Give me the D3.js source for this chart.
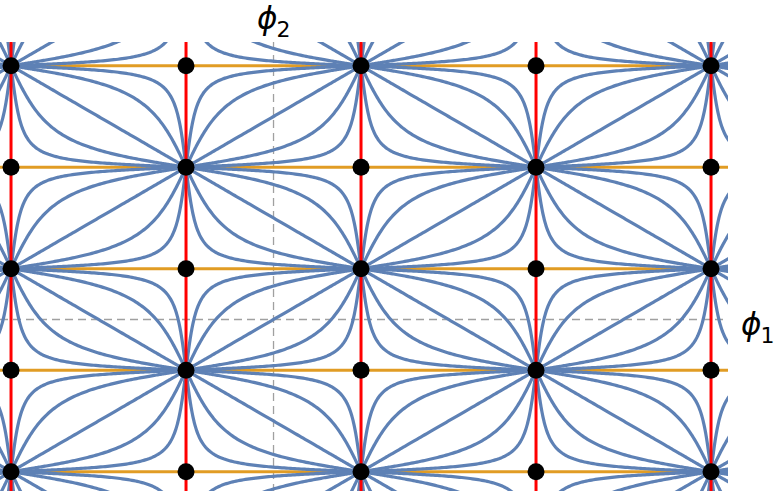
<!DOCTYPE html>
<html>
<head>
<meta charset="utf-8">
<script src="https://cdn.jsdelivr.net/npm/d3@7"></script>
<style>
  body { margin: 0; background: #fff; }
  svg { display: block; }
</style>
</head>
<body>
<svg class="svg_parent"></svg>
<script>
// fixed points, in units of pi
const phi1Points = [-1.5, -0.5, 0.5, 1.5, 2.5];
const phi2Points = [2.5, 1.5, 0.5, -0.5, -1.5];
// where each streamline of a cell crosses the cell's middle (fraction of cell height)
const streamCrossings = [0.045, 0.17, 0.5, 0.83, 0.955];
// visible plot range, units of pi
const phi1Range = [-1.563, 2.597];
const phi2Range = [2.734, -1.69];
const axisLabels = ["ϕ", "ϕ"];
const axisSubs = ["1", "2"];

const width = 774;
const height = 491;
const plot = { left: 0, right: 728, top: 42, bottom: 491 };

const colors = {
  stream: "#5e81b5",
  horiz: "#e19c24",
  vert: "#ff0000",
  axis: "#a0a0a0"
};

const svg = d3.select(".svg_parent").attr("width", width).attr("height", height);

const x = d3.scaleLinear().domain(phi1Range).range([plot.left, plot.right]);
const y = d3.scaleLinear().domain(phi2Range).range([plot.top, plot.bottom]);

svg.append("defs").append("clipPath").attr("id", "clip")
  .append("rect")
  .attr("x", plot.left).attr("y", plot.top)
  .attr("width", plot.right - plot.left).attr("height", plot.bottom - plot.top);

const g = svg.append("g").attr("clip-path", "url(#clip)");

// dashed axes through the origin
g.append("line")
  .attr("x1", x(phi1Range[0])).attr("x2", x(phi1Range[1]))
  .attr("y1", y(0)).attr("y2", y(0))
  .attr("stroke", colors.axis).attr("stroke-width", 1.3).attr("stroke-dasharray", "8,5");
g.append("line")
  .attr("x1", x(0)).attr("x2", x(0))
  .attr("y1", y(phi2Range[0])).attr("y2", y(phi2Range[1]))
  .attr("stroke", colors.axis).attr("stroke-width", 1.3).attr("stroke-dasharray", "8,5");

// invariant horizontal lines
g.append("g").selectAll("line").data(phi2Points).join("line")
  .attr("x1", x(phi1Range[0])).attr("x2", x(phi1Range[1]))
  .attr("y1", d => y(d)).attr("y2", d => y(d))
  .attr("stroke", colors.horiz).attr("stroke-width", 3);

// streamlines: per cell, trajectories of s' = cos s, t' = cos t
const gd = a => Math.asin(Math.tanh(a));
const gdInv = s => Math.atanh(Math.sin(s));
const isNode = (p1, p2) => (Math.round(p1 - 0.5) + Math.round(p2 - 0.5)) % 2 === 0;

const cellLefts = d3.range(Math.floor(phi1Range[0] - 0.5) + 0.5, phi1Range[1], 1);
const cellTops = d3.range(Math.ceil(phi2Range[0] - 0.5) + 0.5, phi2Range[1], -1);

const streams = [];
cellLefts.forEach(xl => {
  cellTops.forEach(yt => {
    const down = isNode(xl, yt); // nodes on top-left / bottom-right diagonal
    streamCrossings.forEach(r => {
      const C = -gdInv(Math.PI * (r - 0.5));
      const pts = [];
      for (let a = Math.min(0, C) - 6; a <= Math.max(0, C) + 6; a += 0.04) {
        const u = 0.5 + gd(a) / Math.PI;
        const v = 0.5 + gd(a - C) / Math.PI;
        pts.push([xl + u, down ? yt - v : yt - 1 + v]);
      }
      streams.push(pts);
    });
  });
});

const line = d3.line().x(d => x(d[0])).y(d => y(d[1]));

g.append("g").selectAll("path").data(streams).join("path")
  .attr("d", line)
  .attr("fill", "none")
  .attr("stroke", colors.stream)
  .attr("stroke-width", 3.2)
  .attr("stroke-linecap", "round");

// invariant vertical lines
g.append("g").selectAll("line").data(phi1Points).join("line")
  .attr("x1", d => x(d)).attr("x2", d => x(d))
  .attr("y1", y(phi2Range[0])).attr("y2", y(phi2Range[1]))
  .attr("stroke", colors.vert).attr("stroke-width", 3);

// fixed points
const fixed = phi1Points.flatMap(p1 => phi2Points.map(p2 => [p1, p2]));
svg.append("g").selectAll("circle").data(fixed).join("circle")
  .attr("cx", d => x(d[0])).attr("cy", d => y(d[1]))
  .attr("r", 8.5)
  .attr("fill", "#000");

// axis labels
const addLabel = (lx, ly, i) => {
  const t = svg.append("text")
    .attr("x", lx).attr("y", ly)
    .style("font-family", "DejaVu Sans");
  t.append("tspan").style("font-size", "31px").style("font-style", "italic").text(axisLabels[i]);
  t.append("tspan").attr("dy", 8).attr("dx", -1).style("font-size", "22px").text(axisSubs[i]);
};
addLabel(741, 335, 0);
addLabel(257, 29, 1);
</script>
</body>
</html>
